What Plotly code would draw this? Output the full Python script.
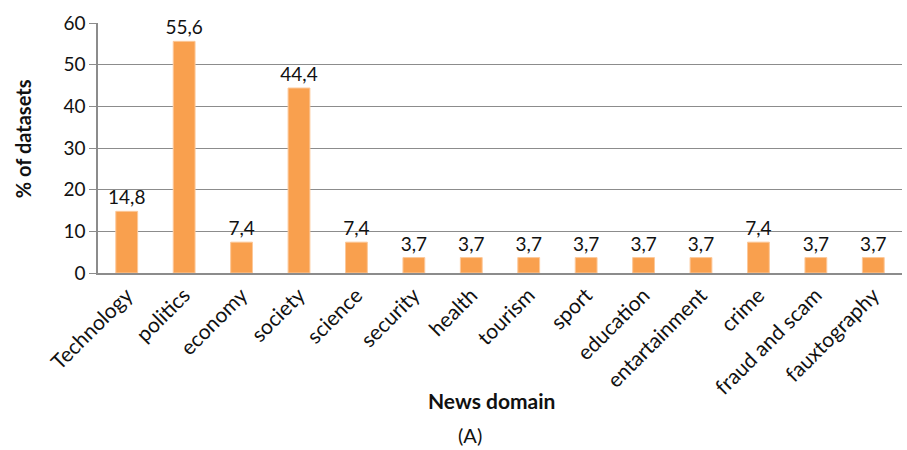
import plotly.graph_objects as go

# News domains covered by the datasets and their share (%)
domains = ["Technology", "politics", "economy", "society", "science", "security",
           "health", "tourism", "sport", "education", "entartainment", "crime",
           "fraud and scam", "fauxtography"]
shares = [14.8, 55.6, 7.4, 44.4, 7.4, 3.7, 3.7, 3.7, 3.7, 3.7, 3.7, 7.4, 3.7, 3.7]
y_ticks = [0, 10, 20, 30, 40, 50, 60]

FONT = "Lato, 'Open Sans', sans-serif"
BAR = "#F9A04E"
GRID = "#8C8C8C"
INK = "#111111"

fig = go.Figure(
    go.Bar(
        x=domains,
        y=shares,
        marker=dict(color=BAR, line=dict(color="#FCC89A", width=1)),
        texttemplate="%{y:.1f}",
        textposition="outside",
        textangle=0,
        constraintext="none",
        textfont=dict(family=FONT, size=19, color=INK),
        cliponaxis=False,
    )
)

fig.update_layout(
    width=907,
    height=450,
    margin=dict(l=98, r=5, t=23, b=177),
    paper_bgcolor="white",
    plot_bgcolor="white",
    bargap=0.62,
    separators=", ",
    showlegend=False,
    font=dict(family=FONT, color=INK),
)

fig.update_xaxes(
    tickangle=-45,
    tickfont=dict(family=FONT, size=21, color=INK),
    showline=True,
    linecolor=GRID,
    linewidth=1.5,
    showgrid=False,
    ticks="",
)

fig.update_yaxes(
    range=[0, 60],
    tickvals=y_ticks,
    tickfont=dict(family=FONT, size=19, color=INK),
    showgrid=True,
    gridcolor=GRID,
    gridwidth=1,
    showline=True,
    linecolor=GRID,
    linewidth=1.5,
    ticks="outside",
    ticklen=7,
    tickcolor=GRID,
    zeroline=False,
)

# Axis titles and panel label
fig.add_annotation(
    text="<b>% of datasets</b>", xref="paper", yref="paper", x=-0.093, y=0.536,
    xanchor="center", yanchor="middle", textangle=-90, showarrow=False,
    font=dict(family=FONT, size=20, color=INK),
)
fig.add_annotation(
    text="<b>News domain</b>", xref="paper", yref="paper", x=0.49, y=-0.508,
    xanchor="center", yanchor="middle", showarrow=False,
    font=dict(family=FONT, size=21, color=INK),
)
fig.add_annotation(
    text="(A)", xref="paper", yref="paper", x=0.463, y=-0.648,
    xanchor="center", yanchor="middle", showarrow=False, borderpad=0,
    font=dict(family=FONT, size=20, color=INK),
)

fig.write_html("out.html")
